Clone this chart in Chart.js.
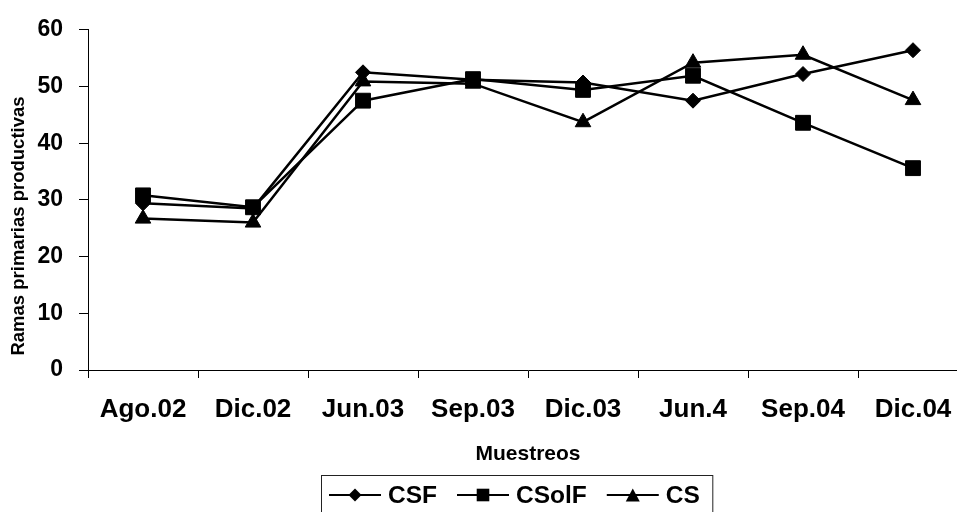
<!DOCTYPE html>
<html>
<head>
<meta charset="utf-8">
<script src="https://cdn.jsdelivr.net/npm/chart.js@4/dist/chart.umd.min.js"></script>
<style>
  html, body { margin: 0; padding: 0; background: #fff; overflow: hidden; width: 957px; height: 512px; }
  #wrap { position: relative; width: 957px; height: 512px; overflow: hidden; }
  #c { position: absolute; left: 0; top: 0; }
</style>
</head>
<body>
<div id="wrap"><canvas id="c" width="968" height="512"></canvas></div>
<script>
// Sampling dates (x categories)
const muestreos = ['Ago.02', 'Dic.02', 'Jun.03', 'Sep.03', 'Dic.03', 'Jun.4', 'Sep.04', 'Dic.04'];

// Productive primary branches per treatment
const csf   = [29.4, 28.5, 52.5, 51.2, 50.7, 47.5, 52.2, 56.4];
const csolf = [30.8, 28.7, 47.5, 51.3, 49.4, 51.9, 43.6, 35.6];
const cs    = [26.7, 26.0, 50.9, 50.5, 43.7, 54.2, 55.6, 47.6];

const seriesNames = ['CSF', 'CSolF', 'CS'];
const yTicks = [0, 10, 20, 30, 40, 50, 60];

const FONT = 'Liberation Sans, Arial, sans-serif';

function series(label, data, style, radius) {
  return {
    label, data,
    borderColor: '#000', backgroundColor: '#000',
    borderWidth: 2.5, tension: 0,
    pointStyle: style, pointRadius: radius, pointHoverRadius: radius,
    pointBackgroundColor: '#000', pointBorderColor: '#000', pointBorderWidth: 1
  };
}

// Marker drawing for the boxed legend
function marker(ctx, style, x, y) {
  ctx.beginPath();
  if (style === 'rectRot') {
    const r = 6.5;
    ctx.moveTo(x - r, y); ctx.lineTo(x, y - r); ctx.lineTo(x + r, y); ctx.lineTo(x, y + r);
  } else if (style === 'rect') {
    const h = 6.3;
    ctx.rect(x - h, y - h, 2 * h, 2 * h);
  } else {
    const w = 7, h = 6.5;
    ctx.moveTo(x, y - h); ctx.lineTo(x + w, y + h); ctx.lineTo(x - w, y + h);
  }
  ctx.closePath();
  ctx.fill();
}

const boxedLegend = {
  id: 'boxedLegend',
  afterDraw(chart) {
    const ctx = chart.ctx;
    const styles = chart.data.datasets.map(d => d.pointStyle);
    ctx.save();
    ctx.font = 'bold 24.5px ' + FONT;
    ctx.textBaseline = 'middle';
    ctx.textAlign = 'left';
    const left = 321.5, top = 475.5, cy = 495;
    let x = left + 7.5;
    seriesNames.forEach((name, i) => {
      ctx.strokeStyle = '#000'; ctx.fillStyle = '#000'; ctx.lineWidth = 2;
      ctx.beginPath(); ctx.moveTo(x, cy); ctx.lineTo(x + 52, cy); ctx.stroke();
      marker(ctx, styles[i], x + 26, cy);
      ctx.fillText(name, x + 59, cy + 1);
      x += 59 + ctx.measureText(name).width + (i < seriesNames.length - 1 ? 20 : 13);
    });
    ctx.strokeStyle = '#222'; ctx.lineWidth = 1;
    ctx.strokeRect(left, top, x - left, 45);
    ctx.restore();
  }
};

// Y axis caption, set slightly below the axis midpoint
const yCaption = {
  id: 'yCaption',
  afterDraw(chart) {
    const ctx = chart.ctx;
    ctx.save();
    ctx.translate(19, 226);
    ctx.rotate(-Math.PI / 2);
    ctx.font = 'bold 18.5px ' + FONT;
    ctx.fillStyle = '#000';
    ctx.textAlign = 'center';
    ctx.textBaseline = 'middle';
    ctx.fillText('Ramas primarias productivas', 0, 0);
    ctx.restore();
  }
};

new Chart(document.getElementById('c'), {
  type: 'line',
  data: {
    labels: muestreos,
    datasets: [
      series(seriesNames[0], csf, 'rectRot', 7.5),
      series(seriesNames[1], csolf, 'rect', 10.5),
      series(seriesNames[2], cs, 'triangle', 9)
    ]
  },
  options: {
    responsive: false,
    animation: false,
    devicePixelRatio: 1,
    layout: { autoPadding: false, padding: { top: 29, left: 0, right: 0, bottom: 0 } },
    plugins: { legend: { display: false }, tooltip: { enabled: false } },
    scales: {
      x: {
        offset: true,
        grid: { offset: true, drawOnChartArea: false, drawTicks: true, tickLength: 8, color: '#000', lineWidth: 1 },
        border: { color: '#000', width: 1 },
        ticks: { color: '#000', padding: 16, maxRotation: 0, font: { family: FONT, size: 26, weight: 'bold' } },
        title: { display: true, text: 'Muestreos', color: '#000', padding: { top: 4, bottom: 45 },
                 font: { family: FONT, size: 21, weight: 'bold' } },
        afterFit(scale) {
          scale.height = 142;
          // labels sit inside their category slots, so no edge padding is needed
          scale.paddingLeft = 0;
          scale.paddingRight = 0;
        }
      },
      y: {
        min: 0, max: 60,
        afterBuildTicks(scale) { scale.ticks = yTicks.map(v => ({ value: v })); },
        grid: { drawOnChartArea: false, drawTicks: true, tickLength: 9, color: '#000', lineWidth: 1 },
        border: { color: '#000', width: 1 },
        ticks: { color: '#000', padding: 16, font: { family: FONT, size: 23, weight: 'bold' } },
        afterFit(scale) { scale.width = 88; }
      }
    }
  },
  plugins: [boxedLegend, yCaption]
});
</script>
</body>
</html>
